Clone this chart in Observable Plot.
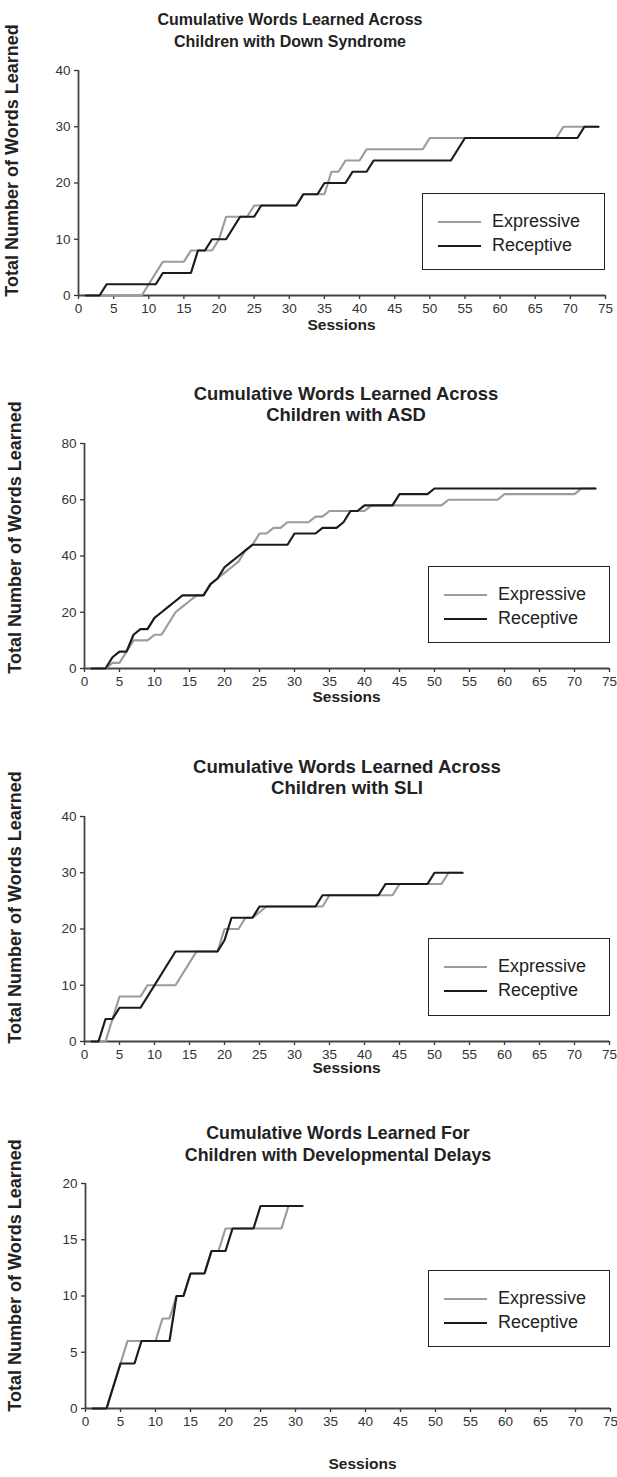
<!DOCTYPE html>
<html>
<head>
<meta charset="utf-8">
<script src="https://cdn.jsdelivr.net/npm/d3@7"></script>
<script src="https://cdn.jsdelivr.net/npm/@observablehq/plot@0.6"></script>
<style>
  body { margin: 0; background: #fff; font-family: "Liberation Sans", Arial, sans-serif; }
  #root { position: relative; width: 617px; height: 1477px; overflow: hidden; background: #fff; }
  .title { position: absolute; font-weight: bold; color: #222; text-align: center; white-space: nowrap; transform: translate(-50%, -50%); }
  .plotwrap { position: absolute; left: 0; }
  .legend { position: absolute; border: 1.6px solid #222; box-sizing: border-box; background: #fff; }
  .legend .row { position: absolute; left: 0; right: 0; height: 22px; }
  .legend .sw { position: absolute; height: 0; }
  .legend .lab { position: absolute; color: #222; white-space: nowrap; line-height: 22px; }
</style>
</head>
<body>
<div id="root"></div>
<script>
// ---------- data ----------
const seriesNames = ["Expressive", "Receptive"];
const sessionTicks = [0, 5, 10, 15, 20, 25, 30, 35, 40, 45, 50, 55, 60, 65, 70, 75];

// Down Syndrome
const dsTitle = ["Cumulative Words Learned Across", "Children with Down Syndrome"];
const dsYTicks = [0, 10, 20, 30, 40];
const dsExpSessions = [1, 9, 12, 15, 16, 19, 20, 21, 24, 25, 31, 32, 35, 36, 37, 38, 40, 41, 49, 50, 68, 69, 74];
const dsExpWords    = [0, 0, 6, 6, 8, 8, 10, 14, 14, 16, 16, 18, 18, 22, 22, 24, 24, 26, 26, 28, 28, 30, 30];
const dsRecSessions = [1, 3, 4, 11, 12, 16, 17, 18, 19, 21, 23, 25, 26, 31, 32, 34, 35, 38, 39, 41, 42, 53, 55, 71, 72, 74];
const dsRecWords    = [0, 0, 2, 2, 4, 4, 8, 8, 10, 10, 14, 14, 16, 16, 18, 18, 20, 20, 22, 22, 24, 24, 28, 28, 30, 30];

// ASD
const asdTitle = ["Cumulative Words Learned Across", "Children with ASD"];
const asdYTicks = [0, 20, 40, 60, 80];
const asdExpSessions = [1, 3, 4, 5, 6, 7, 9, 10, 11, 13, 14, 15, 16, 17, 18, 19, 20, 21, 22, 23, 24, 25, 26, 27, 28, 29, 32, 33, 34, 35, 40, 41, 51, 52, 59, 60, 70, 71, 73];
const asdExpWords    = [0, 0, 2, 2, 6, 10, 10, 12, 12, 20, 22, 24, 26, 26, 30, 32, 34, 36, 38, 42, 44, 48, 48, 50, 50, 52, 52, 54, 54, 56, 56, 58, 58, 60, 60, 62, 62, 64, 64];
const asdRecSessions = [1, 3, 4, 5, 6, 7, 8, 9, 10, 11, 12, 13, 14, 17, 18, 19, 20, 21, 22, 23, 24, 29, 30, 33, 34, 36, 37, 38, 39, 40, 44, 45, 49, 50, 73];
const asdRecWords    = [0, 0, 4, 6, 6, 12, 14, 14, 18, 20, 22, 24, 26, 26, 30, 32, 36, 38, 40, 42, 44, 44, 48, 48, 50, 50, 52, 56, 56, 58, 58, 62, 62, 64, 64];

// SLI
const sliTitle = ["Cumulative Words Learned Across", "Children with SLI"];
const sliYTicks = [0, 10, 20, 30, 40];
const sliExpSessions = [1, 3, 5, 8, 9, 13, 16, 19, 20, 22, 23, 24, 26, 34, 35, 44, 45, 51, 52, 54];
const sliExpWords    = [0, 0, 8, 8, 10, 10, 16, 16, 20, 20, 22, 22, 24, 24, 26, 26, 28, 28, 30, 30];
const sliRecSessions = [1, 2, 3, 4, 5, 8, 13, 19, 20, 21, 24, 25, 33, 34, 42, 43, 49, 50, 54];
const sliRecWords    = [0, 0, 4, 4, 6, 6, 16, 16, 18, 22, 22, 24, 24, 26, 26, 28, 28, 30, 30];

// Developmental Delays
const ddTitle = ["Cumulative Words Learned For", "Children with Developmental Delays"];
const ddYTicks = [0, 5, 10, 15, 20];
const ddExpSessions = [1, 3, 5, 6, 10, 11, 12, 13, 14, 15, 17, 18, 19, 20, 28, 29, 31];
const ddExpWords    = [0, 0, 4, 6, 6, 8, 8, 10, 10, 12, 12, 14, 14, 16, 16, 18, 18];
const ddRecSessions = [1, 3, 5, 7, 8, 12, 13, 14, 15, 17, 18, 20, 21, 24, 25, 31];
const ddRecWords    = [0, 0, 4, 4, 6, 6, 10, 10, 12, 12, 14, 14, 16, 16, 18, 18];

const yLabel = "Total Number of Words Learned";
const xLabel = "Sessions";

// ---------- layout ----------
const panels = [
  { title: dsTitle, yTicks: dsYTicks, exp: [dsExpSessions, dsExpWords], rec: [dsRecSessions, dsRecWords],
    left: 78, right: 605, top: 70, bottom: 295, titleX: 290, titleY: [20, 42], titleSize: 16,
    sessX: 341, sessY: 325, yLabX: 12, yLabY: 160,
    legend: { x: 422, y: 193, w: 183, h: 77 } },
  { title: asdTitle, yTicks: asdYTicks, exp: [asdExpSessions, asdExpWords], rec: [asdRecSessions, asdRecWords],
    left: 84, right: 609, top: 443, bottom: 668, titleX: 346, titleY: [394, 415], titleSize: 18.4,
    sessX: 346, sessY: 697, yLabX: 15, yLabY: 537,
    legend: { x: 428, y: 566, w: 182, h: 77 } },
  { title: sliTitle, yTicks: sliYTicks, exp: [sliExpSessions, sliExpWords], rec: [sliRecSessions, sliRecWords],
    left: 84, right: 609, top: 816, bottom: 1041, titleX: 347, titleY: [767, 788], titleSize: 18.6,
    sessX: 346, sessY: 1068, yLabX: 15, yLabY: 907,
    legend: { x: 428, y: 938, w: 182, h: 78 } },
  { title: ddTitle, yTicks: ddYTicks, exp: [ddExpSessions, ddExpWords], rec: [ddRecSessions, ddRecWords],
    left: 85, right: 610, top: 1183, bottom: 1408, titleX: 338, titleY: [1133, 1155], titleSize: 17.8,
    sessX: 362, sessY: 1464, yLabX: 15, yLabY: 1275,
    legend: { x: 428, y: 1270, w: 182, h: 77 } }
];

const colors = ["#9c9c9c", "#1c1c1c"];
const root = document.getElementById("root");

panels.forEach(p => {
  // title (two centred lines)
  p.title.forEach((line, i) => {
    const t = document.createElement("div");
    t.className = "title";
    t.style.left = p.titleX + "px";
    t.style.top = p.titleY[i] + "px";
    t.style.fontSize = p.titleSize + "px";
    t.textContent = line;
    root.appendChild(t);
  });

  const rows = [];
  p.exp[0].forEach((s, i) => rows.push({ series: seriesNames[0], session: s, words: p.exp[1][i] }));
  p.rec[0].forEach((s, i) => rows.push({ series: seriesNames[1], session: s, words: p.rec[1][i] }));

  const padTop = 20, padBottom = 70;
  const svgTop = p.top - padTop;
  const height = (p.bottom - p.top) + padTop + padBottom;
  const yMax = p.yTicks[p.yTicks.length - 1];
  const frameMidY = (p.top + p.bottom) / 2;
  const frameMidX = (p.left + p.right) / 2;

  const chart = Plot.plot({
    width: 617,
    height,
    marginTop: padTop,
    marginBottom: padBottom,
    marginLeft: p.left,
    marginRight: 617 - p.right,
    style: { fontFamily: "'Liberation Sans', Arial, sans-serif", fontSize: "13.5px", color: "#333", background: "transparent", overflow: "visible" },
    x: { domain: [0, 75] },
    y: { domain: [0, yMax] },
    color: { domain: seriesNames, range: colors },
    marks: [
      Plot.axisX({ ticks: sessionTicks, tickSize: 4, tickPadding: 4, stroke: "#333", strokeWidth: 1.3, fill: "#333",
        label: null }),
      Plot.axisY({ ticks: p.yTicks, tickSize: 4, tickPadding: 4, stroke: "#333", strokeWidth: 1.3, fill: "#333",
        label: null }),
      Plot.text([xLabel], { frameAnchor: "bottom", dx: p.sessX - frameMidX, dy: p.sessY - p.bottom, text: d => d, fontWeight: "bold", fontSize: 15.5, fill: "#222", lineAnchor: "middle" }),
      Plot.text([yLabel], { frameAnchor: "left", dx: p.yLabX - p.left, dy: p.yLabY - frameMidY, rotate: -90, text: d => d, fontWeight: "bold", fontSize: 18, fill: "#222", lineAnchor: "middle", textAnchor: "middle" }),
      Plot.ruleY([0], { stroke: "#444", strokeWidth: 1.8 }),
      Plot.ruleX([0], { stroke: "#444", strokeWidth: 1.8 }),
      Plot.line(rows, { x: "session", y: "words", z: "series", stroke: "series", strokeWidth: 2.2, strokeLinejoin: "miter" })
    ]
  });
  const wrap = document.createElement("div");
  wrap.className = "plotwrap";
  wrap.style.top = svgTop + "px";
  wrap.appendChild(chart);
  root.appendChild(wrap);

  // legend
  const L = p.legend;
  const box = document.createElement("div");
  box.className = "legend";
  box.style.left = L.x + "px"; box.style.top = L.y + "px";
  box.style.width = L.w + "px"; box.style.height = L.h + "px";
  seriesNames.forEach((name, i) => {
    const row = document.createElement("div");
    row.className = "row";
    row.style.top = (16 + i * 24) + "px";
    const sw = document.createElement("div");
    sw.className = "sw";
    sw.style.left = "15px"; sw.style.width = "43px"; sw.style.top = "11px";
    sw.style.borderTop = "2.2px solid " + colors[i];
    const lab = document.createElement("div");
    lab.className = "lab";
    lab.style.left = "69px"; lab.style.top = "0px"; lab.style.fontSize = "18px";
    lab.textContent = name;
    row.appendChild(sw); row.appendChild(lab);
    box.appendChild(row);
  });
  root.appendChild(box);
});
</script>
</body>
</html>
